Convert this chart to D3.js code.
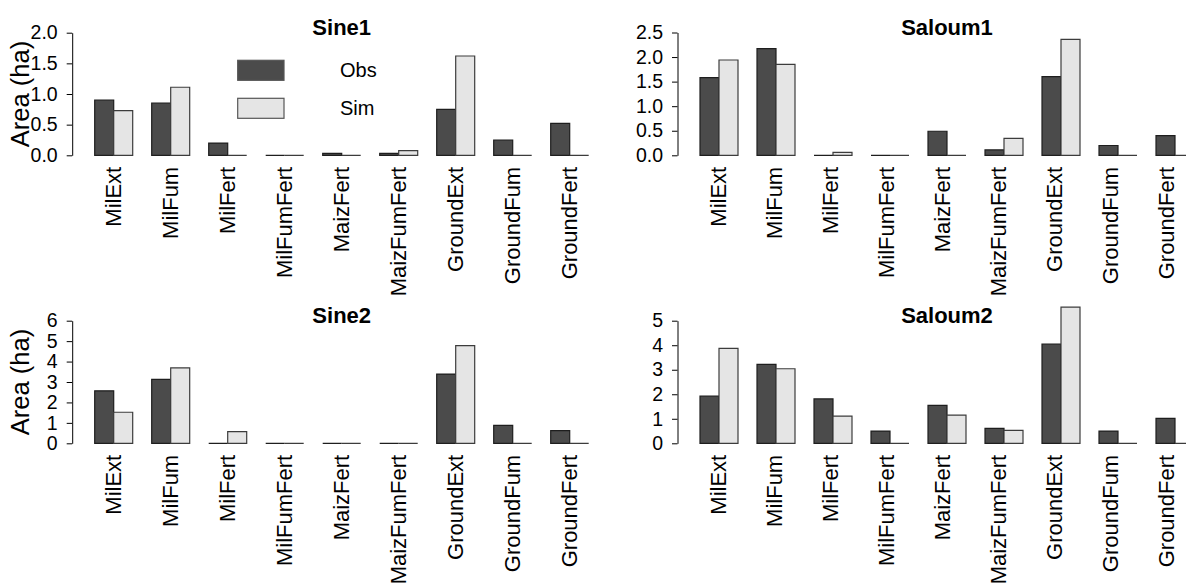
<!DOCTYPE html>
<html lang="en">
<head>
<meta charset="UTF-8">
<script src="https://d3js.org/d3.v7.min.js"></script>
<title>Obs vs Sim areas</title>
<style>
  body { margin: 0; background: #fff; }
  text { font-family: "Liberation Sans", Arial, sans-serif; fill: #000; }
</style>
</head>
<body>
<script>
// crop types (same for every panel)
var categories = ["MilExt", "MilFum", "MilFert", "MilFumFert", "MaizFert",
                  "MaizFumFert", "GroundExt", "GroundFum", "GroundFert"];
var series = ["Obs", "Sim"];

// values (ha)
var sine1Obs   = [0.90, 0.85, 0.20, 0.00, 0.03, 0.03, 0.75, 0.25, 0.52];
var sine1Sim   = [0.73, 1.11, 0.00, 0.00, 0.00, 0.075, 1.62, 0.00, 0.00];
var saloum1Obs = [1.58, 2.17, 0.00, 0.00, 0.49, 0.11, 1.60, 0.20, 0.40];
var saloum1Sim = [1.94, 1.85, 0.06, 0.00, 0.00, 0.345, 2.36, 0.00, 0.00];
var sine2Obs   = [2.57, 3.13, 0.00, 0.00, 0.00, 0.00, 3.39, 0.88, 0.62];
var sine2Sim   = [1.52, 3.69, 0.57, 0.00, 0.00, 0.00, 4.78, 0.00, 0.00];
var saloum2Obs = [1.92, 3.22, 1.81, 0.50, 1.55, 0.61, 4.05, 0.50, 1.02];
var saloum2Sim = [3.87, 3.04, 1.11, 0.00, 1.15, 0.53, 5.55, 0.00, 0.00];

// y tick labels
var ticksSine1   = [0, 0.5, 1, 1.5, 2];
var ticksSaloum1 = [0, 0.5, 1, 1.5, 2, 2.5];
var ticksSine2   = [0, 1, 2, 3, 4, 5, 6];
var ticksSaloum2 = [0, 1, 2, 3, 4, 5];

var W = 1186, H = 586;
var unit = 19;          // one bar width in px
var colors = {Obs: "#4b4b4b", Sim: "#e5e5e5"};
var strokes = {Obs: "#1e1e1e", Sim: "#3c3c3c"};

var svg = d3.select("body").append("svg")
    .attr("width", W).attr("height", H);

var panels = [
  {title: "Sine1",   obs: sine1Obs,   sim: sine1Sim,   ticks: ticksSine1,   fmt: ".1f", x0: 75.7, base: 155.3, top: 32.7, labTrim: 0, ylab: true, legend: true},
  {title: "Saloum1", obs: saloum1Obs, sim: saloum1Sim, ticks: ticksSaloum1, fmt: ".1f", x0: 681,  base: 155.3, top: 32.5, labTrim: 9},
  {title: "Sine2",   obs: sine2Obs,   sim: sine2Sim,   ticks: ticksSine2,   fmt: "d",   x0: 75.7, base: 443.3, top: 320.7, labTrim: 0, ylab: true},
  {title: "Saloum2", obs: saloum2Obs, sim: saloum2Sim, ticks: ticksSaloum2, fmt: "d",   x0: 681,  base: 443.3, top: 320.7, labTrim: 9}
];

panels.forEach(drawPanel);

function drawPanel(p) {
  var g = svg.append("g");

  var x = d3.scaleBand()
      .domain(categories)
      .range([p.x0 + unit, p.x0 + 27 * unit])
      .paddingInner(1 / 3)
      .paddingOuter(0);
  var xs = d3.scaleBand().domain(series).range([0, x.bandwidth()]);
  // label positions (the right-hand panels sit a little tighter in the picture)
  var xl = x.copy().range([p.x0 + unit, p.x0 + 27 * unit - p.labTrim]);

  var y = d3.scaleLinear()
      .domain([0, d3.max(p.ticks)])
      .range([p.base, p.top]);

  var rows = [];
  categories.forEach(function(c, i) {
    rows.push({cat: c, s: "Obs", v: p.obs[i]});
    rows.push({cat: c, s: "Sim", v: p.sim[i]});
  });

  // drawn as paths so that zero-height bars still show as a flat line
  g.selectAll("path.bar").data(rows).enter().append("path")
      .attr("class", "bar")
      .attr("d", function(d) {
        var x1 = x(d.cat) + xs(d.s), w = xs.bandwidth();
        var y1 = y(d.v), y0 = y(0);
        return "M" + x1 + "," + y0 + "V" + y1 + "H" + (x1 + w) + "V" + y0 + "Z";
      })
      .attr("fill", function(d) { return colors[d.s]; })
      .attr("stroke", function(d) { return strokes[d.s]; })
      .attr("stroke-width", 1.2);

  // y axis
  var axisX = p.x0 - 3.5;
  var ax = g.append("g")
      .attr("transform", "translate(" + axisX + ",0)")
      .call(d3.axisLeft(y).tickValues(p.ticks).tickFormat(d3.format(p.fmt))
            .tickSize(5.5).tickSizeOuter(0).tickPadding(9));
  ax.select(".domain").attr("stroke", "#000").attr("stroke-width", 1);
  ax.selectAll(".tick line").attr("stroke", "#000");
  ax.selectAll(".tick text")
      .attr("font-family", "Liberation Sans, Arial, sans-serif")
      .attr("font-size", 19.5).attr("fill", "#000");

  // category labels, vertical
  g.selectAll("text.cat").data(categories).enter().append("text")
      .attr("class", "cat")
      .attr("transform", function(d) {
        return "translate(" + (xl(d) + xl.bandwidth() / 2) + "," + (p.base + 11.5) + ") rotate(-90)";
      })
      .attr("dy", "0.35em")
      .attr("text-anchor", "end")
      .attr("font-size", 22)
      .text(function(d) { return d; });

  // title
  g.append("text")
      .attr("x", p.x0 + 14 * unit)
      .attr("y", p.base - 120.5)
      .attr("text-anchor", "middle")
      .attr("font-size", 22)
      .attr("font-weight", "bold")
      .text(p.title);

  if (p.ylab) {
    g.append("text")
        .attr("transform", "translate(29," + ((p.base + p.top) / 2) + ") rotate(-90)")
        .attr("text-anchor", "middle")
        .attr("font-size", 25.5)
        .text("Area (ha)");
  }

  if (p.legend) {
    var leg = g.append("g");
    leg.selectAll("rect").data(series).enter().append("rect")
        .attr("x", 237.7)
        .attr("y", function(d, i) { return 60.3 + i * 38; })
        .attr("width", 46.3).attr("height", 20)
        .attr("fill", function(d) { return colors[d]; })
        .attr("stroke", "#555").attr("stroke-width", 1.2);
    leg.selectAll("text").data(series).enter().append("text")
        .attr("x", 340)
        .attr("y", function(d, i) { return 70.3 + i * 38; })
        .attr("dy", "0.35em")
        .attr("font-size", 20)
        .text(function(d) { return d; });
  }
}
</script>
</body>
</html>
